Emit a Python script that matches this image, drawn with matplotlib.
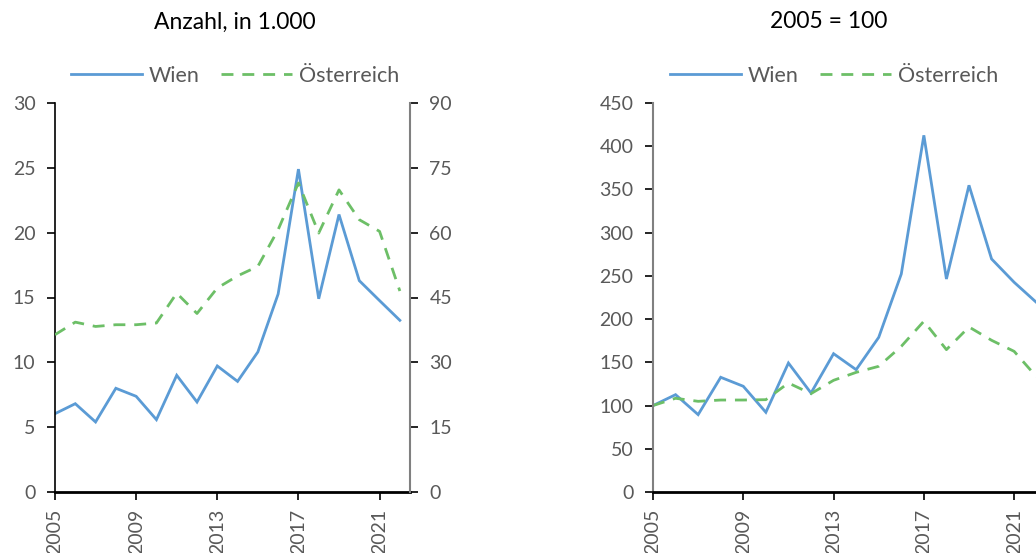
import matplotlib
matplotlib.use("Agg")
import matplotlib.pyplot as plt
from matplotlib.lines import Line2D

plt.rcParams['font.family'] = ['Lato', 'DejaVu Sans']

# Jahre und Werte
years = list(range(2005, 2023))
wien_abs = [6.04, 6.81, 5.40, 8.00, 7.38, 5.58, 9.00, 6.94, 9.72, 8.53,
            10.80, 15.27, 24.90, 14.90, 21.40, 16.30, 14.76, 13.24]
oe_abs = [36.4, 39.3, 38.3, 38.7, 38.7, 39.1, 46.0, 41.3, 47.2, 50.0,
          52.2, 60.7, 71.5, 59.9, 69.9, 63.0, 60.3, 46.5]
wien_idx = [100, 112.6, 89.5, 132.7, 122.3, 92.2, 149.2, 114.5, 160.0, 141.5,
            178.9, 252.2, 412.6, 246.4, 354.8, 269.6, 242.6, 219.0]
oe_idx = [100, 108.4, 104.9, 106.4, 106.4, 106.8, 126.1, 113.8, 129.2, 138.4,
          145.4, 168.5, 197.5, 164.7, 190.9, 175.5, 162.7, 133.0]
xticks = [2005, 2009, 2013, 2017, 2021]

BLUE = '#5b9bd5'
GREEN = '#6dbf67'
GREY = '#595959'
DASH = (4.3, 3.2)
LW = 2.0

fig = plt.figure(figsize=(10.36, 5.53), dpi=100)
W, H = 1036, 553


def style_axis(ax):
    ax.set_xlim(2005, 2022.5)
    ax.set_xticks(xticks)
    ax.set_xticklabels([str(y) for y in xticks], rotation=90, color=GREY, fontsize=14)
    ax.tick_params(axis='x', direction='out', length=6, width=1.2, color='black', pad=6)
    ax.tick_params(axis='y', direction='out', length=6, width=1.2, color='black',
                   labelcolor=GREY, labelsize=14, pad=8)
    ax.spines['top'].set_visible(False)
    ax.spines['bottom'].set_linewidth(2)
    ax.spines['bottom'].set_color('black')


# linke Grafik: absolute Werte
ax1 = fig.add_axes([55 / W, 61 / H, 355 / W, 389 / H])
ax1.plot(years, wien_abs, color=BLUE, lw=LW, solid_joinstyle='miter')
ax1.set_ylim(0, 30)
ax1.set_yticks(range(0, 31, 5))
style_axis(ax1)
ax1.spines['left'].set_color('black')
ax1.spines['left'].set_linewidth(1.2)
ax1.spines['right'].set_visible(False)

ax1b = ax1.twinx()
ax1b.plot(years, oe_abs, color=GREEN, lw=LW, dashes=DASH)
ax1b.set_ylim(0, 90)
ax1b.set_yticks(range(0, 91, 15))
ax1b.tick_params(axis='y', direction='out', length=6, width=1.2, color='black',
                 labelcolor=GREY, labelsize=14, pad=8)
for s in ['top', 'left', 'bottom']:
    ax1b.spines[s].set_visible(False)
ax1b.spines['right'].set_color('#808080')
ax1b.spines['right'].set_linewidth(1.5)

# rechte Grafik: Index
ax2 = fig.add_axes([653 / W, 61 / H, 395 / W, 389 / H])
ax2.plot(years, wien_idx, color=BLUE, lw=LW, solid_joinstyle='miter')
ax2.plot(years, oe_idx, color=GREEN, lw=LW, dashes=DASH)
ax2.set_ylim(0, 450)
ax2.set_yticks(range(0, 451, 50))
style_axis(ax2)
ax2.spines['left'].set_color('#808080')
ax2.spines['left'].set_linewidth(1.5)
ax2.spines['right'].set_visible(False)

# Titel
fig.text(235 / W, 1 - 22 / H, 'Anzahl, in 1.000', ha='center', va='center', fontsize=16.5, color='black')
fig.text(829 / W, 1 - 22 / H, '2005 = 100', ha='center', va='center', fontsize=16.5, color='black')

# Legenden
handles = [Line2D([], [], color=BLUE, lw=LW),
           Line2D([], [], color=GREEN, lw=LW, dashes=DASH)]
labels = ['Wien', 'Österreich']
for cx in (235 / W, 834 / W):
    fig.legend(handles, labels, loc='center', bbox_to_anchor=(cx, 1 - 76 / H), ncol=2,
               frameon=False, fontsize=15.5, labelcolor=GREY, handlelength=3.3,
               handletextpad=0.3, columnspacing=1.0)

fig.savefig('out.png', dpi=100)
